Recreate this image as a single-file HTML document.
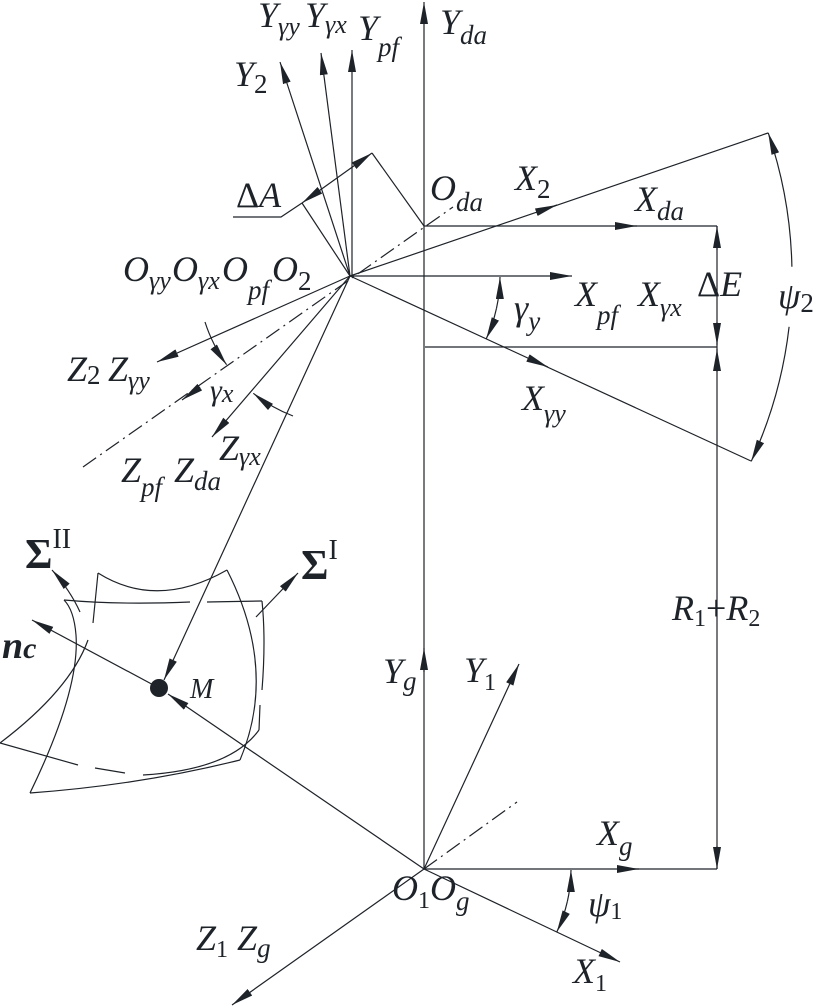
<!DOCTYPE html>
<html><head><meta charset="utf-8"><style>
html,body{margin:0;padding:0;background:#fff}
svg{display:block}
text{font-family:"Liberation Serif",serif;font-style:italic;fill:#1e2329}
.n{font-style:normal}
</style></head><body>
<svg width="813" height="1006" viewBox="0 0 813 1006" xmlns="http://www.w3.org/2000/svg">
<defs>
<marker id="a" markerUnits="userSpaceOnUse" markerWidth="24" markerHeight="10" refX="22" refY="4" orient="auto">
<path d="M0,0 L22,4 L0,8 z" fill="#1e2329"/>
</marker>
</defs>
<g stroke="#1e2329" stroke-width="1.2" fill="none">
<line x1="424" y1="869" x2="424" y2="2" marker-end="url(#a)"/>
<path d="M424,672 L424,648" marker-end="url(#a)"/>
<line x1="350" y1="276" x2="280" y2="62" marker-end="url(#a)"/>
<line x1="350" y1="276" x2="321" y2="53" marker-end="url(#a)"/>
<line x1="352" y1="276" x2="352" y2="50" marker-end="url(#a)"/>
<line x1="350" y1="276" x2="572" y2="276" marker-end="url(#a)"/>
<line x1="350" y1="276" x2="768" y2="133"/>
<path d="M537,212 L557,205" marker-end="url(#a)"/>
<line x1="350" y1="276" x2="751" y2="461"/>
<path d="M528,358 L548,367" marker-end="url(#a)"/>
<line x1="350" y1="276" x2="157" y2="362" marker-end="url(#a)"/>
<line x1="350" y1="276" x2="212" y2="437" marker-end="url(#a)"/>
<line x1="350" y1="276" x2="164" y2="680" marker-end="url(#a)"/>
<line x1="83" y1="467" x2="453" y2="207" stroke-dasharray="16 5 2 5"/>
<path d="M200,387 L182,400" marker-end="url(#a)"/>
<line x1="424" y1="226" x2="717" y2="226"/>
<path d="M615,226 L637,226" marker-end="url(#a)"/>
<line x1="425" y1="347" x2="717" y2="347"/>
<line x1="717" y1="226" x2="717" y2="869"/>
<path d="M717,250 L717,226" marker-end="url(#a)"/>
<path d="M717,322 L717,345" marker-end="url(#a)"/>
<path d="M717,372 L717,349" marker-end="url(#a)"/>
<path d="M717,846 L717,869" marker-end="url(#a)"/>
<line x1="350" y1="276" x2="302" y2="203"/>
<line x1="424" y1="226" x2="372" y2="153"/>
<path d="M337,178 L372,153" marker-end="url(#a)"/>
<path d="M337,178 L302,203" marker-end="url(#a)"/>
<polyline points="302,203 281,217 233,217"/>
<path d="M791.9,266.7 A442,442 0 0 0 768.2,132.8" marker-end="url(#a)"/>
<path d="M789.1,326.8 A442,442 0 0 1 751.2,461.4" marker-end="url(#a)"/>
<path d="M496.5,308.2 A150,150 0 0 0 500,277" marker-end="url(#a)"/>
<path d="M496.5,308.2 A150,150 0 0 1 486.2,338.9" marker-end="url(#a)"/>
<path d="M205,322 A152,152 0 0 0 226.6,364.7" marker-end="url(#a)"/>
<path d="M293,416 A152,152 0 0 1 253.3,393.3" marker-end="url(#a)"/>
<line x1="424" y1="869" x2="717" y2="869"/>
<path d="M617,869 L639,869" marker-end="url(#a)"/>
<line x1="424" y1="869" x2="620" y2="962" marker-end="url(#a)"/>
<line x1="424" y1="869" x2="519" y2="664" marker-end="url(#a)"/>
<line x1="424" y1="869" x2="517" y2="802" stroke-dasharray="16 5 2 5"/>
<line x1="424" y1="869" x2="232" y2="1005" marker-end="url(#a)"/>
<line x1="424" y1="869" x2="168" y2="694" marker-end="url(#a)"/>
<path d="M567.4,901.3 A147,147 0 0 0 571,870" marker-end="url(#a)"/>
<path d="M567.4,901.3 A147,147 0 0 1 556.8,932" marker-end="url(#a)"/>
<line x1="159" y1="688" x2="32" y2="620" marker-end="url(#a)"/>
<path d="M98,573 Q157,610 227,570"/>
<path d="M227,570 Q278,670 240,760"/>
<path d="M240,760 Q140,785 30,793"/>
<path d="M30,793 Q80,690 76,635 Q74,610 64,600"/>
<path d="M64,600 Q120,605 190,602"/>
<path d="M207,602 L262,601"/>
<path d="M262,601 Q266,640 262,690"/>
<path d="M260,705 L259,730"/>
<path d="M259,730 Q230,770 143,775"/>
<path d="M0,743 L78,765"/>
<path d="M95,768 L125,773"/>
<path d="M0,743 Q70,690 88,640"/>
<path d="M93,623 L98,573"/>
<path d="M80,612 Q70,590 52,570" marker-end="url(#a)"/>
<line x1="256" y1="617" x2="298" y2="573" marker-end="url(#a)"/>
</g>
<circle cx="159" cy="688" r="9" fill="#1e2329"/>
<g font-size="36">
<text x="440" y="34">Y<tspan font-size="27" dy="10">da</tspan></text>
<text x="258" y="27">Y<tspan font-size="26" dy="8">γy</tspan></text>
<text x="305" y="27">Y<tspan font-size="26" dy="6">γx</tspan></text>
<text x="358" y="40">Y<tspan font-size="27" dy="16">pf</tspan></text>
<text x="234" y="86">Y<tspan font-size="27" dy="7" class="n">2</tspan></text>
<text x="430" y="200">O<tspan font-size="27" dy="11">da</tspan></text>
<text x="236" y="207"><tspan class="n">Δ</tspan>A</text>
<text x="515" y="190">X<tspan font-size="27" dy="8" class="n">2</tspan></text>
<text x="635" y="211">X<tspan font-size="27" dy="9">da</tspan></text>
<text x="123" y="281">O<tspan font-size="26" dy="8">γy</tspan></text>
<text x="172" y="281">O<tspan font-size="26" dy="8">γx</tspan></text>
<text x="222" y="281">O<tspan font-size="27" dy="18">pf</tspan></text>
<text x="272" y="281">O<tspan font-size="27" dy="9" class="n">2</tspan></text>
<text x="575" y="306">X<tspan font-size="27" dy="18">pf</tspan></text>
<text x="638" y="306">X<tspan font-size="26" dy="10">γx</tspan></text>
<text x="697" y="296"><tspan class="n">Δ</tspan>E</text>
<text x="514" y="320">γ<tspan font-size="27" dy="10">y</tspan></text>
<text x="778" y="308">ψ<tspan font-size="27" dy="4" class="n">2</tspan></text>
<text x="67" y="381">Z<tspan font-size="27" dy="3" class="n">2</tspan></text>
<text x="108" y="381">Z<tspan font-size="26" dy="8">γy</tspan></text>
<text x="210" y="400" font-size="30">γ<tspan font-size="26" dy="2">x</tspan></text>
<text x="522" y="410">X<tspan font-size="26" dy="12">γy</tspan></text>
<text x="121" y="482">Z<tspan font-size="27" dy="14">pf</tspan></text>
<text x="174" y="482">Z<tspan font-size="27" dy="8">da</tspan></text>
<text x="219" y="460">Z<tspan font-size="26" dy="5">γx</tspan></text>
<text x="25" y="568" class="n" font-weight="bold" font-size="42">Σ<tspan font-size="28" dy="-20" font-weight="normal" class="n">II</tspan></text>
<text x="301" y="579" class="n" font-weight="bold" font-size="42">Σ<tspan font-size="28" dy="-20" font-weight="normal" class="n">I</tspan></text>
<text x="2" y="658" font-weight="bold" font-size="38">n<tspan font-size="30">c</tspan></text>
<text x="190" y="698" font-size="28">M</text>
<text x="672" y="620">R<tspan font-size="24" dy="6" class="n">1</tspan><tspan dy="-6" class="n">+</tspan>R<tspan font-size="24" dy="6" class="n">2</tspan></text>
<text x="383" y="683">Y<tspan font-size="27" dy="7">g</tspan></text>
<text x="464" y="682">Y<tspan font-size="24" dy="8" class="n">1</tspan></text>
<text x="597" y="845">X<tspan font-size="27" dy="10">g</tspan></text>
<text x="392" y="900">O<tspan font-size="24" dy="8" class="n">1</tspan><tspan dy="-8">O</tspan><tspan font-size="27" dy="10">g</tspan></text>
<text x="588" y="916">ψ<tspan font-size="24" dy="3" class="n">1</tspan></text>
<text x="196" y="950">Z<tspan font-size="24" dy="7" class="n">1</tspan><tspan dy="-7"> Z</tspan><tspan font-size="27" dy="7">g</tspan></text>
<text x="573" y="983">X<tspan font-size="24" dy="8" class="n">1</tspan></text>
</g>
</svg>
</body></html>
